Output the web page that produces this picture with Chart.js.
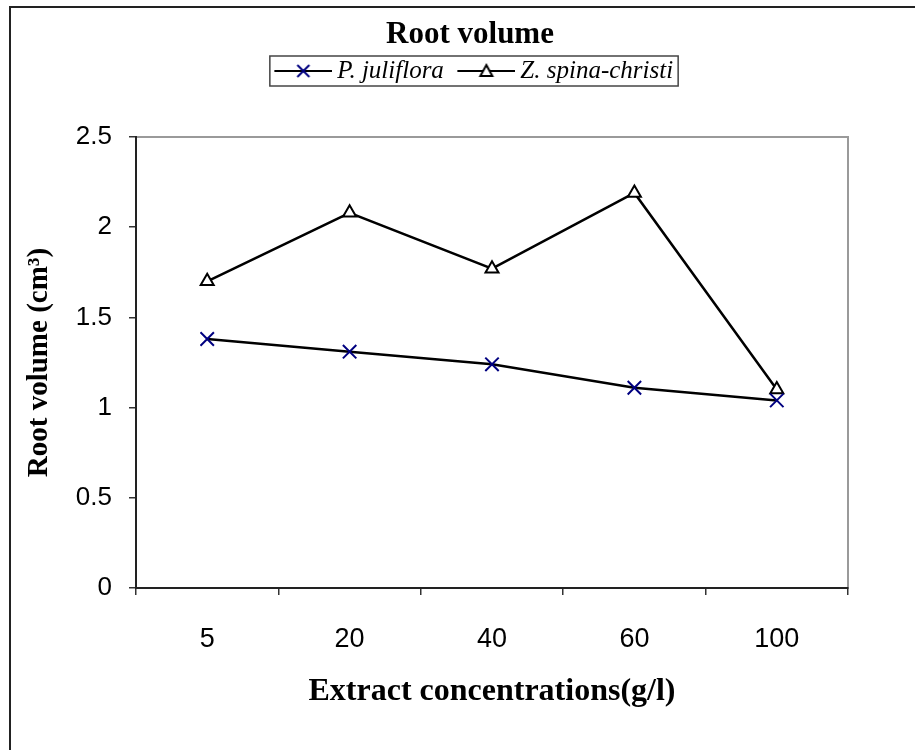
<!DOCTYPE html>
<html>
<head>
<meta charset="utf-8">
<title>Root volume</title>
<script src="https://cdn.jsdelivr.net/npm/chart.js@4.4.1/dist/chart.umd.min.js"></script>
<style>
  html, body { margin: 0; padding: 0; background: #fff; overflow: hidden; }
  #frame { position: absolute; left: 9px; top: 6px; width: 1000px; height: 1000px; border-left: 2px solid #222; border-top: 2px solid #222; }
  #rootChart { position: absolute; left: 0; top: 0; }
</style>
</head>
<body>
<div id="frame"></div>
<canvas id="rootChart" width="915" height="750"></canvas>
<script>
// Data
const concentrations = ['5', '20', '40', '60', '100'];
const julifloraVolume = [1.38, 1.31, 1.24, 1.11, 1.04];
const spinaChristiVolume = [1.70, 2.08, 1.77, 2.19, 1.10];
const yTickValues = [0, 0.5, 1, 1.5, 2, 2.5];
const yTickLabels = ['0', '0.5', '1', '1.5', '2', '2.5'];

const SERIF = "'Liberation Serif', 'Times New Roman', serif";
const SANS = "'Liberation Sans', Arial, sans-serif";

// Legend icon: short line with the series marker in the middle.
// The image is centred on the legend box, so the line is drawn in its right part.
function legendIcon(drawMarker) {
    const c = document.createElement('canvas');
    c.width = 73;
    c.height = 20;
    const g = c.getContext('2d');
    g.strokeStyle = '#000';
    g.lineWidth = 2;
    g.beginPath();
    g.moveTo(15, 10);
    g.lineTo(73, 10);
    g.stroke();
    drawMarker(g, 44, 10);
    return c;
}

const crossIcon = legendIcon(function(g, cx, cy) {
    g.strokeStyle = '#000080';
    g.lineWidth = 2;
    g.beginPath();
    g.moveTo(cx - 6, cy - 6); g.lineTo(cx + 6, cy + 6);
    g.moveTo(cx + 6, cy - 6); g.lineTo(cx - 6, cy + 6);
    g.stroke();
});

const triangleIcon = legendIcon(function(g, cx, cy) {
    g.fillStyle = '#fff';
    g.strokeStyle = '#000';
    g.lineWidth = 2;
    g.beginPath();
    g.moveTo(cx, cy - 6);
    g.lineTo(cx + 6, cy + 5);
    g.lineTo(cx - 6, cy + 5);
    g.closePath();
    g.fill();
    g.stroke();
});

const legendIcons = [crossIcon, triangleIcon];

// Gray frame round the plot area (axes draw the dark left/bottom edges)
const plotFrame = {
    id: 'plotFrame',
    beforeDraw(chart) {
        const { ctx, chartArea: a } = chart;
        ctx.save();
        ctx.strokeStyle = '#9a9a9a';
        ctx.lineWidth = 2;
        ctx.strokeRect(a.left, a.top, a.right - a.left, a.bottom - a.top);
        ctx.restore();
    }
};

// Box round the legend entries
const legendBox = {
    id: 'legendBox',
    afterDraw(chart) {
        const hb = chart.legend && chart.legend.legendHitBoxes;
        if (!hb || !hb.length) return;
        const first = hb[0];
        const last = hb[hb.length - 1];
        const left = first.left + 3;
        const right = last.left + last.width + 5;
        const cy = first.top + first.height / 2;
        const ctx = chart.ctx;
        ctx.save();
        ctx.strokeStyle = '#444';
        ctx.lineWidth = 1.5;
        ctx.strokeRect(left, cy - 15, right - left, 30);
        ctx.restore();
    }
};

const ctx = document.getElementById('rootChart').getContext('2d');

const chart = new Chart(ctx, {
    type: 'line',
    data: {
        labels: concentrations,
        datasets: [
            {
                label: 'P. juliflora',
                data: julifloraVolume,
                xAxisID: 'x',
                yAxisID: 'y',
                borderColor: '#000',
                borderWidth: 2.5,
                tension: 0,
                fill: false,
                pointStyle: 'crossRot',
                pointRadius: 9.5,
                pointBorderWidth: 2,
                pointBorderColor: '#000080',
                pointBackgroundColor: '#000080'
            },
            {
                label: 'Z. spina-christi',
                data: spinaChristiVolume,
                xAxisID: 'x',
                yAxisID: 'y',
                borderColor: '#000',
                borderWidth: 2.5,
                tension: 0,
                fill: false,
                pointStyle: 'triangle',
                pointRadius: 7.5,
                pointBorderWidth: 2,
                pointBorderColor: '#000',
                pointBackgroundColor: '#fff'
            }
        ]
    },
    options: {
        responsive: false,
        animation: false,
        layout: {
            padding: { left: 25, right: 0, top: 0, bottom: 0 }
        },
        plugins: {
            title: {
                display: true,
                text: 'Root volume',
                color: '#000',
                font: { family: SERIF, size: 31, weight: 'bold', lineHeight: 0.8 },
                padding: { top: 22.6, bottom: 5.1 }
            },
            legend: {
                position: 'top',
                labels: {
                    usePointStyle: true,
                    pointStyleWidth: 58,
                    boxHeight: 10,
                    padding: 6,
                    color: '#000',
                    font: { family: SERIF, size: 25, style: 'italic' },
                    generateLabels: function(chart) {
                        return chart.data.datasets.map(function(ds, i) {
                            return {
                                text: ds.label,
                                pointStyle: legendIcons[i],
                                rotation: 0,
                                fillStyle: 'transparent',
                                strokeStyle: 'transparent',
                                lineWidth: 0,
                                fontColor: '#000',
                                hidden: false,
                                datasetIndex: i
                            };
                        });
                    }
                }
            },
            tooltip: { enabled: false }
        },
        scales: {
            x: {
                type: 'category',
                position: 'bottom',
                offset: true,
                grid: {
                    offset: true,
                    drawOnChartArea: false,
                    tickLength: 7,
                    color: '#333',
                    lineWidth: 1.5
                },
                border: { display: true, color: '#222', width: 2 },
                ticks: {
                    color: '#000',
                    padding: 28.8,
                    maxRotation: 0,
                    font: { family: SANS, size: 27 }
                },
                title: {
                    display: true,
                    text: 'Extract concentrations(g/l)',
                    color: '#000',
                    font: { family: SERIF, size: 32, weight: 'bold' },
                    padding: { top: 0, bottom: 38.8 }
                },
                afterFit: function(scale) { scale.height = 162; }
            },
            y: {
                type: 'linear',
                position: 'left',
                min: 0,
                max: 2.5,
                afterBuildTicks: function(scale) {
                    scale.ticks = yTickValues.map(function(v) { return { value: v }; });
                },
                grid: {
                    drawOnChartArea: false,
                    tickLength: 7,
                    color: '#333',
                    lineWidth: 1.5
                },
                border: { display: true, color: '#222', width: 2 },
                ticks: {
                    color: '#000',
                    padding: 17,
                    font: { family: SANS, size: 26 },
                    callback: function(value, index) { return yTickLabels[index]; }
                },
                title: {
                    display: true,
                    text: 'Root volume (cm³)',
                    color: '#000',
                    font: { family: SERIF, size: 29, weight: 'bold', lineHeight: 1 },
                    padding: { top: 0, bottom: 0 }
                },
                afterFit: function(scale) { scale.width = 111; }
            },
            // spacer axes: pin the plot area's top and right edges
            xTop: {
                type: 'category',
                position: 'top',
                display: true,
                grid: { display: false },
                border: { display: false },
                ticks: { display: false },
                afterFit: function(scale) {
                    const c = scale.chart;
                    scale.height = 137 - c.titleBlock.height - c.legend.height;
                }
            },
            yRight: {
                type: 'linear',
                position: 'right',
                display: true,
                grid: { display: false },
                border: { display: false },
                ticks: { display: false },
                afterFit: function(scale) { scale.width = 67; }
            }
        }
    },
    plugins: [plotFrame, legendBox]
});
</script>
</body>
</html>
